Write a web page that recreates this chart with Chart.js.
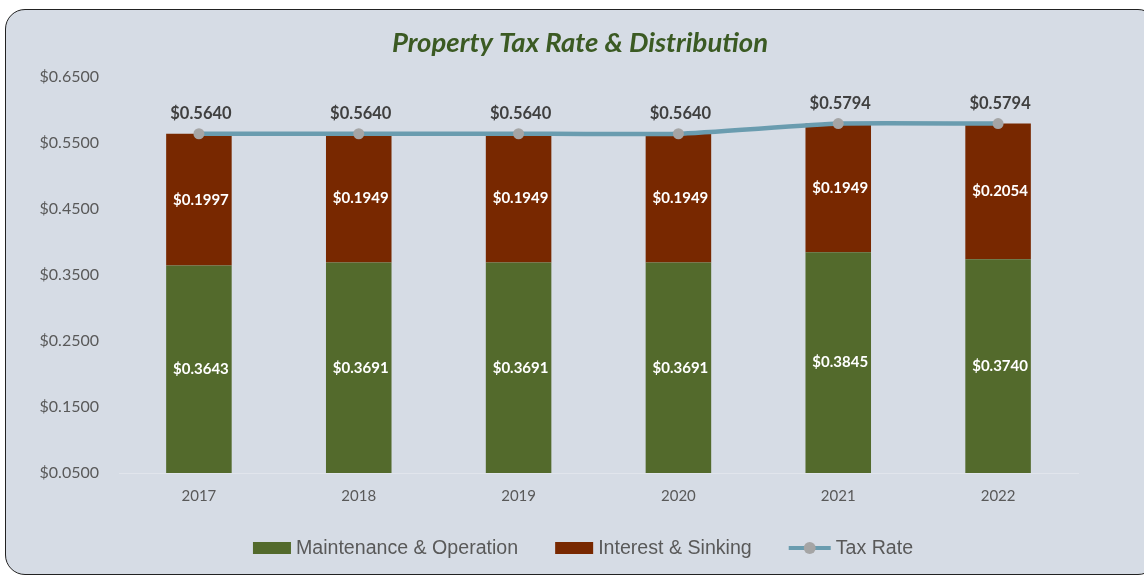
<!DOCTYPE html>
<html>
<head>
<meta charset="utf-8">
<script src="https://cdn.jsdelivr.net/npm/chart.js@4.4.0/dist/chart.umd.min.js"></script>
<style>
  html, body { margin: 0; padding: 0; background: #fff; overflow: hidden; }
  #frame {
    position: absolute; left: 5px; top: 9px; width: 1153px; height: 566px;
    background: #d6dce5; border: 1.5px solid #222; border-radius: 20px; box-sizing: border-box;
  }
  #chart { position: absolute; left: 0; top: 0; }
</style>
</head>
<body>
<div id="frame"></div>
<canvas id="chart" width="1144" height="576"></canvas>
<script>
// === Data ===
const years = ["2017", "2018", "2019", "2020", "2021", "2022"];
const maintenance = [0.3643, 0.3691, 0.3691, 0.3691, 0.3845, 0.3740];
const interest = [0.1997, 0.1949, 0.1949, 0.1949, 0.1949, 0.2054];
const taxRate = [0.5640, 0.5640, 0.5640, 0.5640, 0.5794, 0.5794];
const yTicks = [0.05, 0.15, 0.25, 0.35, 0.45, 0.55, 0.65];
const chartTitle = "Property Tax Rate & Distribution";

const GREEN = "#536a2c";
const BROWN = "#782800";
const LINE = "#6a9caf";
const POINT = "#a5a5a5";

const money = v => "$" + v.toFixed(4);

Chart.defaults.color = "#595959";
Chart.defaults.font.family = "Lato";

// title (drawn here so it can sit off-centre like the original)
const titlePlugin = {
  id: "titleText",
  afterDraw(chart) {
    const { ctx } = chart;
    ctx.save();
    ctx.font = "italic bold 27.5px Lato";
    ctx.fillStyle = "#3b5a23";
    ctx.textAlign = "center";
    ctx.textBaseline = "middle";
    ctx.fillText(chartTitle, 580, 43);
    ctx.restore();
  }
};

// value labels inside bars and above the line points
const valueLabels = {
  id: "valueLabels",
  afterDatasetsDraw(chart) {
    const { ctx, chartArea } = chart;
    ctx.save();
    ctx.textAlign = "center";
    ctx.textBaseline = "middle";
    chart.data.datasets.forEach((ds, i) => {
      chart.getDatasetMeta(i).data.forEach((el, j) => {
        const txt = money(ds.data[j]);
        if (ds.type === "line") {
          ctx.font = "bold 16.5px Lato";
          ctx.fillStyle = "#404040";
          ctx.fillText(txt, el.x + 2, el.y - 20);
        } else {
          const top = Math.max(el.y, chartArea.top);
          const bot = Math.min(el.base, chartArea.bottom);
          ctx.font = "bold 15px Lato";
          ctx.fillStyle = "#fff";
          ctx.fillText(txt, el.x + 2, (top + bot) / 2);
        }
      });
    });
    ctx.restore();
  }
};

// legend row at the bottom
const bottomLegend = {
  id: "bottomLegend",
  afterDraw(chart) {
    const { ctx } = chart;
    const cy = 548;
    ctx.save();
    ctx.font = "19.6px 'Liberation Sans'";
    ctx.textBaseline = "middle";
    const items = chart.data.datasets.map(ds => ({ ds, w: ctx.measureText(ds.label).width }));
    const gap = 5, spacing = 37;
    let total = 0;
    items.forEach((it, i) => {
      it.sw = it.ds.type === "line" ? 42 : 38;
      total += it.sw + gap + it.w + (i < items.length - 1 ? spacing : 0);
    });
    let x = 583 - total / 2;
    items.forEach(it => {
      if (it.ds.type === "line") {
        ctx.strokeStyle = it.ds.borderColor;
        ctx.lineWidth = 4;
        ctx.beginPath();
        ctx.moveTo(x, cy);
        ctx.lineTo(x + it.sw, cy);
        ctx.stroke();
        ctx.fillStyle = it.ds.pointBackgroundColor;
        ctx.beginPath();
        ctx.arc(x + it.sw / 2, cy, 6, 0, Math.PI * 2);
        ctx.fill();
      } else {
        ctx.fillStyle = it.ds.backgroundColor;
        ctx.fillRect(x, cy - 6, it.sw, 12);
      }
      x += it.sw + gap;
      ctx.fillStyle = "#595959";
      ctx.fillText(it.ds.label, x, cy + 1);
      x += it.w + spacing;
    });
    ctx.restore();
  }
};

new Chart(document.getElementById("chart"), {
  type: "bar",
  data: {
    labels: years,
    datasets: [
      {
        type: "bar",
        label: "Maintenance & Operation",
        data: maintenance,
        stack: "rate",
        order: 1,
        backgroundColor: GREEN,
        categoryPercentage: 1,
        barPercentage: 0.41,
      },
      {
        type: "bar",
        label: "Interest & Sinking",
        data: interest,
        stack: "rate",
        order: 1,
        backgroundColor: BROWN,
        categoryPercentage: 1,
        barPercentage: 0.41,
      },
      {
        type: "line",
        label: "Tax Rate",
        data: taxRate,
        stack: "total",
        order: 0,
        borderColor: LINE,
        borderWidth: 4.5,
        pointRadius: 5.5,
        pointBackgroundColor: POINT,
        pointBorderWidth: 0,
        tension: 0.15,
      },
    ],
  },
  options: {
    responsive: false,
    animation: false,
    devicePixelRatio: 1,
    layout: { padding: { left: 0, right: 66, top: 77, bottom: 63 } },
    plugins: {
      legend: { display: false },
      tooltip: { enabled: false },
      title: { display: false },
    },
    scales: {
      x: {
        stacked: true,
        grid: { display: false, drawTicks: false },
        border: { color: "#e1e5ec", width: 1 },
        ticks: { font: { size: 15 }, padding: 14 },
        afterFit: s => { s.height = 40; },
      },
      y: {
        stacked: true,
        min: 0.05,
        max: 0.65,
        grid: { display: false, drawTicks: false },
        border: { display: false },
        ticks: { font: { size: 16 }, padding: 20, callback: v => money(v) },
        afterBuildTicks: s => { s.ticks = yTicks.map(v => ({ value: v })); },
        afterFit: s => { s.width = 119; },
      },
    },
  },
  plugins: [valueLabels, bottomLegend, titlePlugin],
});
</script>
</body>
</html>
